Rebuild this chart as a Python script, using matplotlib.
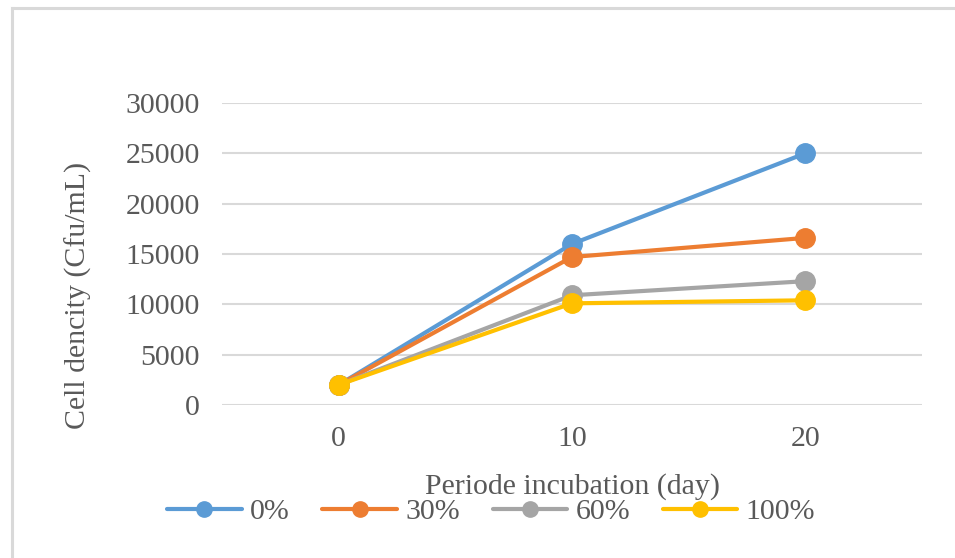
import matplotlib
matplotlib.use("Agg")
import matplotlib.pyplot as plt
from matplotlib.lines import Line2D

days = ["0", "10", "20"]
series_names = ["0%", "30%", "60%", "100%"]
v0 = [2000, 16000, 25000]
v30 = [2000, 14700, 16600]
v60 = [2000, 10900, 12300]
v100 = [2000, 10100, 10400]
yticks = [0, 5000, 10000, 15000, 20000, 25000, 30000]

colors = ["#5B9BD5", "#ED7D31", "#A5A5A5", "#FFC000"]
txt = "#595959"
grid = "#D9D9D9"
FS = 21.5

plt.rcParams["font.family"] = ["Liberation Serif", "DejaVu Serif"]

W, H = 955, 558
fig = plt.figure(figsize=(W / 100, H / 100), dpi=100)
ax = fig.add_axes([222 / W, 1 - 405 / H, 700 / W, (405 - 103) / H])

x = list(range(len(days)))
for vals, name, c in zip([v0, v30, v60, v100], series_names, colors):
    ax.plot(x, vals, color=c, lw=3, marker="o", ms=14, label=name,
            solid_capstyle="round", zorder=3)

ax.set_xlim(-0.5, len(days) - 0.5)
ax.set_ylim(0, 30000)
ax.set_yticks(yticks)
ax.set_yticklabels([str(t) for t in yticks])
ax.set_xticks(x)
ax.set_xticklabels(days)
ax.yaxis.grid(True, color=grid, lw=1.5)
ax.set_axisbelow(True)
for s in ax.spines.values():
    s.set_visible(False)
ax.tick_params(axis="both", length=0, labelsize=FS, colors=txt)
ax.tick_params(axis="y", pad=16)
ax.tick_params(axis="x", pad=15)

fig.text(78 / W, 1 - 295 / H, "Cell dencity (Cfu/mL)", fontsize=FS,
         color=txt, ha="center", va="center", rotation=90)
fig.text(572 / W, 1 - 487 / H, "Periode incubation (day)", fontsize=FS,
         color=txt, ha="center", va="center")

leg = fig.legend(loc="center", bbox_to_anchor=(491 / W, 1 - 512 / H), ncol=4,
                 frameon=False, fontsize=FS, handlelength=2.5,
                 handletextpad=0.27, columnspacing=1.1, borderaxespad=0)
for t in leg.get_texts():
    t.set_color(txt)
for h in leg.legend_handles:
    h.set_markersize(11)

fig.add_artist(Line2D([11.5 / W, 11.5 / W], [0, 1 - 7.5 / H],
                      transform=fig.transFigure, color=grid, lw=2.2))
fig.add_artist(Line2D([11.5 / W, 1], [1 - 7.5 / H, 1 - 7.5 / H],
                      transform=fig.transFigure, color=grid, lw=2.2))

fig.savefig("out.png", dpi=100, facecolor="white")
